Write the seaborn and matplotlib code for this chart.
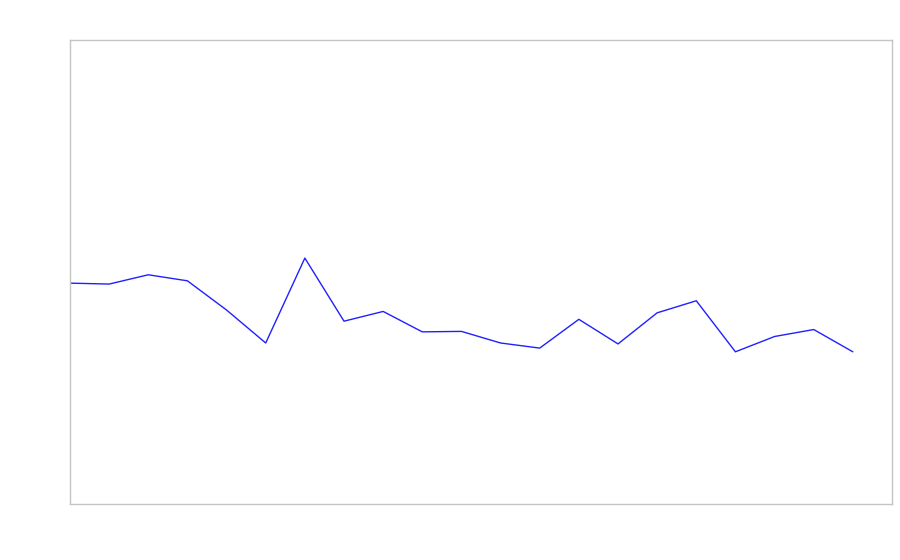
import matplotlib
matplotlib.use("Agg")
import matplotlib.pyplot as plt
import seaborn as sns
import pandas as pd

x_index = list(range(21))
values = [47.6, 47.4, 49.4, 48.1, 41.8, 34.7, 53.0, 39.4, 41.5, 37.1, 37.2,
          34.7, 33.6, 39.8, 34.5, 41.2, 43.8, 32.8, 36.1, 37.6, 32.8]

sns.set_theme(style="white")
df = pd.DataFrame({"x": x_index, "y": values})

fig = plt.figure(figsize=(9, 5.6), dpi=100)
ax = fig.add_axes([70/900, 1-504/560, 822/900, 464/560])
sns.lineplot(data=df, x="x", y="y", ax=ax, color="#2020ff", linewidth=1.0)
ax.set_xlim(0, 21)
ax.set_ylim(0, 100)
ax.set_xticks([])
ax.set_yticks([])
ax.set_xlabel("")
ax.set_ylabel("")
for s in ax.spines.values():
    s.set_color("#c4c4c4")
    s.set_linewidth(1.0)
fig.savefig("out.png", dpi=100, facecolor="white")
